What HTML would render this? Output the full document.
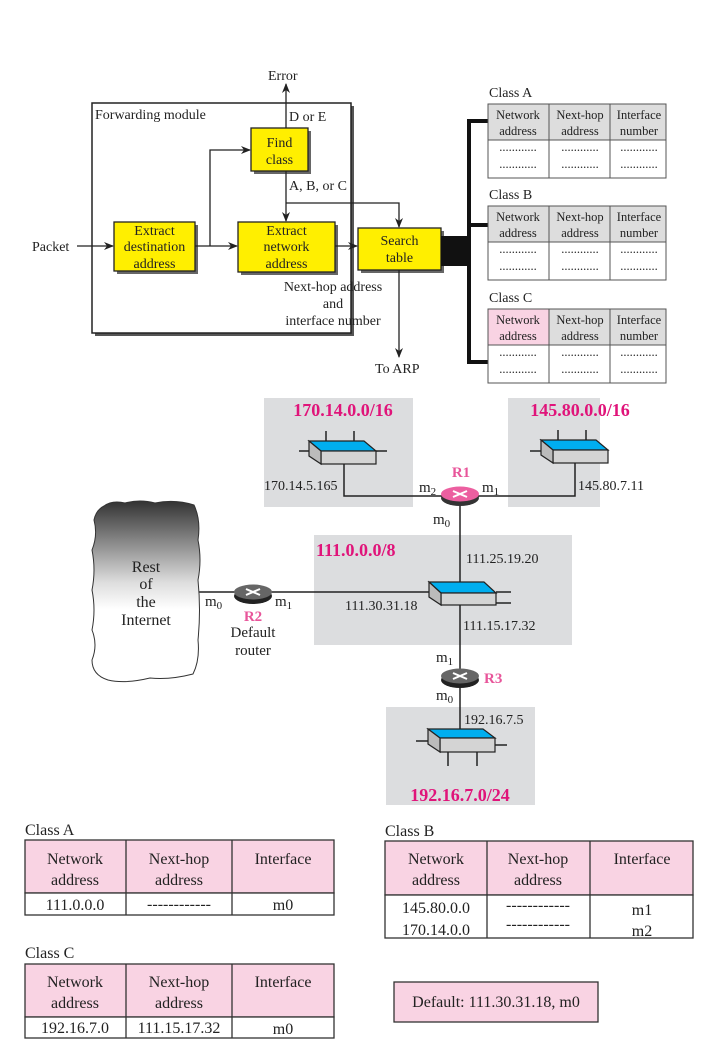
<!DOCTYPE html>
<html><head><meta charset="utf-8"><style>
html,body{margin:0;padding:0;background:#fff}
svg{display:block}
text{font-family:"Liberation Serif",serif;fill:#222}
.m{fill:#e0147a;font-weight:bold}
</style></head><body>
<svg width="708" height="1045" viewBox="0 0 708 1045" xmlns="http://www.w3.org/2000/svg">
<defs>
<marker id="a" markerWidth="10" markerHeight="8" refX="9" refY="4" orient="auto" markerUnits="userSpaceOnUse"><path d="M0,0 L10,4 L0,8 L3,4 z" fill="#222"/></marker>
<linearGradient id="cg" x1="0" y1="0" x2="0" y2="1"><stop offset="0" stop-color="#333"/><stop offset="0.45" stop-color="#ddd"/><stop offset="0.6" stop-color="#fff"/><stop offset="1" stop-color="#fff"/></linearGradient>
</defs>
<g font-size="14">
<rect x="95" y="106" width="259" height="230" fill="#555"/>
<rect x="92" y="103" width="259" height="230" fill="#fff" stroke="#222" stroke-width="1.5"/>
<text x="95" y="119">Forwarding module</text>
<line x1="286" y1="128" x2="286" y2="84" stroke="#222" stroke-width="1.3" marker-end="url(#a)"/>
<text x="268" y="80">Error</text>
<text x="289" y="121">D or E</text>
<rect x="254" y="131" width="57" height="43" fill="#666"/>
<rect x="251" y="128" width="57" height="43" fill="#ffef00" stroke="#222" stroke-width="1.3"/>
<text x="279.5" y="147" text-anchor="middle">Find</text><text x="279.5" y="164" text-anchor="middle">class</text>
<rect x="117" y="225" width="81" height="49" fill="#666"/>
<rect x="114" y="222" width="81" height="49" fill="#ffef00" stroke="#222" stroke-width="1.3"/>
<text x="154.5" y="235" text-anchor="middle">Extract</text><text x="154.5" y="251" text-anchor="middle">destination</text><text x="154.5" y="268" text-anchor="middle">address</text>
<rect x="241" y="225" width="97" height="50" fill="#666"/>
<rect x="238" y="222" width="97" height="50" fill="#ffef00" stroke="#222" stroke-width="1.3"/>
<text x="286.5" y="235" text-anchor="middle">Extract</text><text x="286.5" y="251" text-anchor="middle">network</text><text x="286.5" y="268" text-anchor="middle">address</text>
<rect x="361" y="231" width="83" height="42" fill="#666"/>
<rect x="358" y="228" width="83" height="42" fill="#ffef00" stroke="#222" stroke-width="1.3"/>
<text x="399.5" y="245" text-anchor="middle">Search</text><text x="399.5" y="262" text-anchor="middle">table</text>
<g stroke="#222" stroke-width="1.3" fill="none">
<line x1="77" y1="246" x2="113" y2="246" marker-end="url(#a)"/>
<line x1="195" y1="246" x2="237" y2="246" marker-end="url(#a)"/>
<polyline points="210,246 210,150 250,150" marker-end="url(#a)"/>
<line x1="286" y1="171" x2="286" y2="221" marker-end="url(#a)"/>
<polyline points="286,203 399,203 399,227" marker-end="url(#a)"/>
<line x1="335" y1="246" x2="357" y2="246" marker-end="url(#a)"/>
<line x1="399" y1="270" x2="399" y2="357" marker-end="url(#a)"/>
</g>
<text x="32" y="251">Packet</text>
<text x="289" y="190">A, B, or C</text>
<text x="333" y="291" text-anchor="middle">Next-hop address</text>
<text x="333" y="308" text-anchor="middle">and</text>
<text x="333" y="325" text-anchor="middle">interface number</text>
<text x="375" y="373">To ARP</text>
<rect x="441" y="236" width="28" height="30" fill="#111"/>
<polyline points="488,121 469,121 469,362 488,362" fill="none" stroke="#111" stroke-width="4"/>
<line x1="469" y1="225" x2="488" y2="225" stroke="#111" stroke-width="4"/>
<g font-size="12.5">
<text x="489" y="97" font-size="14">Class A</text>
<rect x="488" y="104" width="178" height="36" fill="#ddd"/>
<rect x="488" y="104" width="178" height="74" fill="none" stroke="#555"/>
<line x1="488" y1="140" x2="666" y2="140" stroke="#555"/>
<line x1="549" y1="104" x2="549" y2="178" stroke="#555"/><line x1="610" y1="104" x2="610" y2="178" stroke="#555"/>
<text x="518" y="119" text-anchor="middle">Network</text><text x="518" y="135" text-anchor="middle">address</text>
<text x="580" y="119" text-anchor="middle">Next-hop</text><text x="580" y="135" text-anchor="middle">address</text>
<text x="639" y="119" text-anchor="middle">Interface</text><text x="639" y="135" text-anchor="middle">number</text>
<text x="518" y="151" text-anchor="middle">............</text><text x="580" y="151" text-anchor="middle">............</text><text x="639" y="151" text-anchor="middle">............</text>
<text x="518" y="168" text-anchor="middle">............</text><text x="580" y="168" text-anchor="middle">............</text><text x="639" y="168" text-anchor="middle">............</text>

<text x="489" y="199" font-size="14">Class B</text>
<rect x="488" y="206" width="178" height="36" fill="#ddd"/>
<rect x="488" y="206" width="178" height="74" fill="none" stroke="#555"/>
<line x1="488" y1="242" x2="666" y2="242" stroke="#555"/>
<line x1="549" y1="206" x2="549" y2="280" stroke="#555"/><line x1="610" y1="206" x2="610" y2="280" stroke="#555"/>
<text x="518" y="221" text-anchor="middle">Network</text><text x="518" y="237" text-anchor="middle">address</text>
<text x="580" y="221" text-anchor="middle">Next-hop</text><text x="580" y="237" text-anchor="middle">address</text>
<text x="639" y="221" text-anchor="middle">Interface</text><text x="639" y="237" text-anchor="middle">number</text>
<text x="518" y="253" text-anchor="middle">............</text><text x="580" y="253" text-anchor="middle">............</text><text x="639" y="253" text-anchor="middle">............</text>
<text x="518" y="270" text-anchor="middle">............</text><text x="580" y="270" text-anchor="middle">............</text><text x="639" y="270" text-anchor="middle">............</text>

<text x="489" y="302" font-size="14">Class C</text>
<rect x="488" y="309" width="178" height="36" fill="#ddd"/>
<rect x="488" y="309" width="61" height="36" fill="#f9d3e3"/>
<rect x="488" y="309" width="178" height="74" fill="none" stroke="#555"/>
<line x1="488" y1="345" x2="666" y2="345" stroke="#555"/>
<line x1="549" y1="309" x2="549" y2="383" stroke="#555"/><line x1="610" y1="309" x2="610" y2="383" stroke="#555"/>
<text x="518" y="324" text-anchor="middle">Network</text><text x="518" y="340" text-anchor="middle">address</text>
<text x="580" y="324" text-anchor="middle">Next-hop</text><text x="580" y="340" text-anchor="middle">address</text>
<text x="639" y="324" text-anchor="middle">Interface</text><text x="639" y="340" text-anchor="middle">number</text>
<text x="518" y="356" text-anchor="middle">............</text><text x="580" y="356" text-anchor="middle">............</text><text x="639" y="356" text-anchor="middle">............</text>
<text x="518" y="373" text-anchor="middle">............</text><text x="580" y="373" text-anchor="middle">............</text><text x="639" y="373" text-anchor="middle">............</text>
</g>
</g>

<rect x="264" y="398" width="149" height="109" fill="#dcdddf"/>
<rect x="508" y="398" width="92" height="109" fill="#dcdddf"/>
<rect x="314" y="535" width="258" height="110" fill="#dcdddf"/>
<rect x="386" y="707" width="149" height="98" fill="#dcdddf"/>
<text x="343" y="416" class="m" font-size="18" text-anchor="middle">170.14.0.0/16</text>
<text x="580" y="416" class="m" font-size="18" text-anchor="middle">145.80.0.0/16</text>
<text x="316" y="556" class="m" font-size="18">111.0.0.0/8</text>
<text x="460" y="801" class="m" font-size="18" text-anchor="middle">192.16.7.0/24</text>

<g stroke="#222" stroke-width="1.5" fill="none">
<polyline points="344,464 344,496 575,496 575,462"/>
<line x1="460" y1="496" x2="460" y2="730"/>
<line x1="198" y1="592" x2="429" y2="592"/>
<line x1="326" y1="431" x2="326" y2="441"/><line x1="354" y1="431" x2="354" y2="441"/>
<line x1="299" y1="451" x2="309" y2="451"/><line x1="376" y1="451" x2="387" y2="451"/>
<line x1="558" y1="430" x2="558" y2="440"/><line x1="586" y1="430" x2="586" y2="440"/>
<line x1="530" y1="451" x2="541" y2="451"/>
<line x1="496" y1="592" x2="511" y2="592"/><line x1="496" y1="603" x2="511" y2="603"/>
<line x1="416" y1="741" x2="428" y2="741"/><line x1="495" y1="745" x2="507" y2="745"/>
<line x1="448" y1="752" x2="448" y2="766"/><line x1="477" y1="752" x2="477" y2="766"/>
</g>
<g stroke="#222" stroke-width="1.2">
<polygon points="309,441 364,441 376,451 321,451" fill="#00aeef"/>
<rect x="321" y="451" width="55" height="13" fill="#d4d4d4"/>
<polygon points="309,441 321,451 321,464 309,456" fill="#bbb"/>
<polygon points="541,440 596,440 608,450 553,450" fill="#00aeef"/>
<rect x="553" y="450" width="55" height="13" fill="#d4d4d4"/>
<polygon points="541,440 553,450 553,463 541,455" fill="#bbb"/>
<polygon points="429,582 484,582 496,593 441,593" fill="#00aeef"/>
<rect x="441" y="593" width="55" height="12" fill="#d4d4d4"/>
<polygon points="429,582 441,593 441,605 429,597" fill="#bbb"/>
<polygon points="428,729 483,729 495,738 440,738" fill="#00aeef"/>
<rect x="440" y="738" width="55" height="14" fill="#d4d4d4"/>
<polygon points="428,729 440,738 440,752 428,744" fill="#bbb"/>
</g>
<g>
<ellipse cx="460" cy="498" rx="19" ry="8" fill="#333"/>
<ellipse cx="460" cy="494" rx="19" ry="7.5" fill="#ec5fa0"/>
<path d="M453,491 L467,497 M453,497 L467,491" stroke="#fff" stroke-width="2"/>
<ellipse cx="253" cy="596" rx="19" ry="8" fill="#222"/>
<ellipse cx="253" cy="592" rx="19" ry="7.5" fill="#666"/>
<path d="M246,589 L260,595 M246,595 L260,589" stroke="#fff" stroke-width="2"/>
<ellipse cx="460" cy="680" rx="19" ry="8" fill="#222"/>
<ellipse cx="460" cy="676" rx="19" ry="7.5" fill="#666"/>
<path d="M453,673 L467,679 M453,679 L467,673" stroke="#fff" stroke-width="2"/>
</g>
<g font-size="15">
<text x="461" y="477" text-anchor="middle" style="fill:#e8559a;font-weight:bold">R1</text>
<text x="253" y="621" text-anchor="middle" style="fill:#e8559a;font-weight:bold">R2</text>
<text x="484" y="683" style="fill:#e8559a;font-weight:bold">R3</text>
<text x="419" y="492">m<tspan font-size="11" dy="3">2</tspan></text>
<text x="482" y="492">m<tspan font-size="11" dy="3">1</tspan></text>
<text x="433" y="524">m<tspan font-size="11" dy="3">0</tspan></text>
<text x="205" y="606">m<tspan font-size="11" dy="3">0</tspan></text>
<text x="275" y="606">m<tspan font-size="11" dy="3">1</tspan></text>
<text x="436" y="662">m<tspan font-size="11" dy="3">1</tspan></text>
<text x="436" y="700">m<tspan font-size="11" dy="3">0</tspan></text>
<text x="253" y="637" text-anchor="middle">Default</text>
<text x="253" y="655" text-anchor="middle">router</text>
</g>
<g font-size="14">
<text x="264" y="490">170.14.5.165</text>
<text x="578" y="490">145.80.7.11</text>
<text x="466" y="563">111.25.19.20</text>
<text x="345" y="610">111.30.31.18</text>
<text x="463" y="630">111.15.17.32</text>
<text x="464" y="724">192.16.7.5</text>
</g>
<path d="M104,506 Q112,500 125,503 Q140,499 155,503 Q175,499 194,505 Q201,520 198,540 Q202,560 198,580 Q201,610 198,640 Q200,660 193,674 Q170,680 150,678 Q125,684 108,680 Q92,675 92,660 Q98,645 92,630 Q96,610 92,590 Q96,570 92,550 Q98,535 94,520 Q96,510 104,506 z" fill="url(#cg)" stroke="#333" stroke-width="1"/>
<g font-size="16" text-anchor="middle">
<text x="146" y="572">Rest</text><text x="146" y="589">of</text><text x="146" y="607">the</text><text x="146" y="625">Internet</text>
</g>

<g font-size="16" stroke-width="1.3">
<text x="25" y="835">Class A</text>
<rect x="25" y="840" width="309" height="53" fill="#f9d3e3" stroke="#333"/>
<rect x="25" y="893" width="309" height="22" fill="#fff" stroke="#333"/>
<line x1="126" y1="840" x2="126" y2="915" stroke="#333"/><line x1="232" y1="840" x2="232" y2="915" stroke="#333"/>
<text x="75" y="864" text-anchor="middle">Network</text><text x="75" y="885" text-anchor="middle">address</text>
<text x="179" y="864" text-anchor="middle">Next-hop</text><text x="179" y="885" text-anchor="middle">address</text>
<text x="283" y="864" text-anchor="middle">Interface</text>
<text x="75" y="910" text-anchor="middle">111.0.0.0</text><text x="179" y="909" text-anchor="middle">------------</text><text x="283" y="910" text-anchor="middle">m0</text>

<text x="385" y="836">Class B</text>
<rect x="385" y="841" width="308" height="54" fill="#f9d3e3" stroke="#333"/>
<rect x="385" y="895" width="308" height="43" fill="#fff" stroke="#333"/>
<line x1="487" y1="841" x2="487" y2="938" stroke="#333"/><line x1="590" y1="841" x2="590" y2="938" stroke="#333"/>
<text x="436" y="864" text-anchor="middle">Network</text><text x="436" y="885" text-anchor="middle">address</text>
<text x="538" y="864" text-anchor="middle">Next-hop</text><text x="538" y="885" text-anchor="middle">address</text>
<text x="642" y="864" text-anchor="middle">Interface</text>
<text x="436" y="913" text-anchor="middle">145.80.0.0</text><text x="436" y="935" text-anchor="middle">170.14.0.0</text>
<text x="538" y="910" text-anchor="middle">------------</text><text x="538" y="929" text-anchor="middle">------------</text>
<text x="642" y="915" text-anchor="middle">m1</text><text x="642" y="936" text-anchor="middle">m2</text>

<text x="25" y="958">Class C</text>
<rect x="25" y="964" width="309" height="53" fill="#f9d3e3" stroke="#333"/>
<rect x="25" y="1017" width="309" height="21" fill="#fff" stroke="#333"/>
<line x1="126" y1="964" x2="126" y2="1038" stroke="#333"/><line x1="232" y1="964" x2="232" y2="1038" stroke="#333"/>
<text x="75" y="987" text-anchor="middle">Network</text><text x="75" y="1008" text-anchor="middle">address</text>
<text x="179" y="987" text-anchor="middle">Next-hop</text><text x="179" y="1008" text-anchor="middle">address</text>
<text x="283" y="987" text-anchor="middle">Interface</text>
<text x="75" y="1033" text-anchor="middle">192.16.7.0</text><text x="179" y="1033" text-anchor="middle">111.15.17.32</text><text x="283" y="1034" text-anchor="middle">m0</text>

<rect x="394" y="982" width="204" height="40" fill="#f9d3e3" stroke="#333"/>
<text x="496" y="1007" text-anchor="middle">Default: 111.30.31.18,  m0</text>
</g>
</svg>
</body></html>
